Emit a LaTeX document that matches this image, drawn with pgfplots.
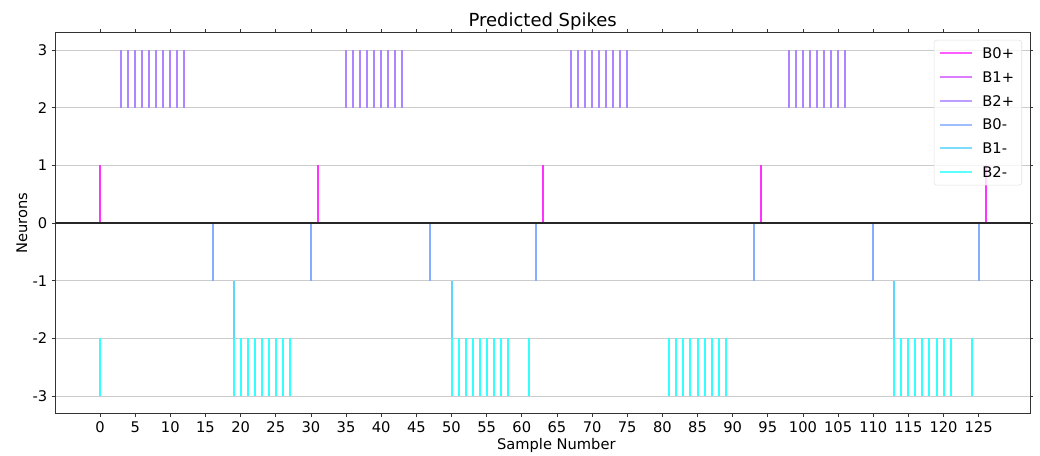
\documentclass[border=0pt]{standalone}
\usepackage{fontspec}
\setmainfont{DejaVu Sans}
\usepackage{pgfplots}
\pgfplotsset{compat=1.18}
\definecolor{B0p}{RGB}{255,51,255}
\definecolor{B1p}{RGB}{214,92,255}
\definecolor{B2p}{RGB}{173,133,255}
\definecolor{B0m}{RGB}{133,173,255}
\definecolor{B1m}{RGB}{92,214,255}
\definecolor{B2m}{RGB}{51,255,255}
\begin{document}
\begin{tikzpicture}
\useasboundingbox (-41.5pt,-32pt) rectangle (738.5pt,310pt);
\begin{axis}[
  scale only axis, width=731pt, height=285.5pt,
  xmin=-6.36, xmax=132.3, ymin=-3.3, ymax=3.3,
  xtick={0,5,...,125}, ytick={-3,-2,-1,0,1,2,3},
  yticklabels={-3,-2,-1,0,1,2,3},
  tick align=outside, major tick length=2.6pt,
  tick style={black!80, line width=0.6pt},
  ymajorgrids, grid style={gray!40, line width=0.6pt},
  axis line style={black!80, line width=0.6pt},
  tick label style={font=\fontsize{11}{13}\selectfont},
  /pgf/number format/assume math mode=true,
  title={Predicted Spikes},
  title style={font=\fontsize{13.5}{16}\selectfont, at={(axis description cs:0.5,1)}, anchor=base, yshift=-1.5pt},
  xlabel={Sample Number},
  xlabel style={font=\fontsize{11}{13}\selectfont, at={(axis description cs:0.514,0)}, anchor=base, yshift=-27.5pt},
  ylabel={Neurons},
  ylabel style={font=\fontsize{11}{13}\selectfont, at={(axis description cs:0,0.5)}, anchor=base, yshift=21.2pt},
  unbounded coords=jump,
  legend style={at={(axis description cs:0.9918,0.981)}, anchor=north east,
    draw=gray!30, rounded corners=2pt, fill=white, fill opacity=0.8, draw opacity=0.8, text opacity=1,
    font=\fontsize{11}{13}\selectfont, inner sep=3.75pt, row sep=5.85pt,
    nodes={inner sep=2pt, text height=8pt, text depth=0pt}},
  legend cell align=left,
  legend image code/.code={\draw[#1] (0pt,0pt) -- (24pt,0pt); \path (29pt,0pt);},
]
% B0+
\addplot[B0p, line width=1.5pt] coordinates {
(0,0)(0,1)(0,nan) (31,0)(31,1)(31,nan) (63,0)(63,1)(63,nan) (94,0)(94,1)(94,nan) (126,0)(126,1)
};
\addlegendentry{B0+}
% B1+ (no spikes)
\addlegendimage{B1p, line width=1.5pt}
\addlegendentry{B1+}
% B2+
\addplot[B2p, line width=1.5pt] coordinates {
(3,2)(3,3)(3,nan) (4,2)(4,3)(4,nan) (5,2)(5,3)(5,nan) (6,2)(6,3)(6,nan) (7,2)(7,3)(7,nan)
(8,2)(8,3)(8,nan) (9,2)(9,3)(9,nan) (10,2)(10,3)(10,nan) (11,2)(11,3)(11,nan) (12,2)(12,3)(12,nan)
(35,2)(35,3)(35,nan) (36,2)(36,3)(36,nan) (37,2)(37,3)(37,nan) (38,2)(38,3)(38,nan) (39,2)(39,3)(39,nan)
(40,2)(40,3)(40,nan) (41,2)(41,3)(41,nan) (42,2)(42,3)(42,nan) (43,2)(43,3)(43,nan)
(67,2)(67,3)(67,nan) (68,2)(68,3)(68,nan) (69,2)(69,3)(69,nan) (70,2)(70,3)(70,nan) (71,2)(71,3)(71,nan)
(72,2)(72,3)(72,nan) (73,2)(73,3)(73,nan) (74,2)(74,3)(74,nan) (75,2)(75,3)(75,nan)
(98,2)(98,3)(98,nan) (99,2)(99,3)(99,nan) (100,2)(100,3)(100,nan) (101,2)(101,3)(101,nan) (102,2)(102,3)(102,nan)
(103,2)(103,3)(103,nan) (104,2)(104,3)(104,nan) (105,2)(105,3)(105,nan) (106,2)(106,3)
};
\addlegendentry{B2+}
% B0-
\addplot[B0m, line width=1.5pt] coordinates {
(16,0)(16,-1)(16,nan) (30,0)(30,-1)(30,nan) (47,0)(47,-1)(47,nan) (62,0)(62,-1)(62,nan)
(93,0)(93,-1)(93,nan) (110,0)(110,-1)(110,nan) (125,0)(125,-1)
};
\addlegendentry{B0-}
% B1-
\addplot[B1m, line width=1.5pt] coordinates {
(19,-1)(19,-2)(19,nan) (50,-1)(50,-2)(50,nan) (113,-1)(113,-2)
};
\addlegendentry{B1-}
% B2-
\addplot[B2m, line width=1.5pt] coordinates {
(0,-2)(0,-3)(0,nan)
(19,-2)(19,-3)(19,nan) (20,-2)(20,-3)(20,nan) (21,-2)(21,-3)(21,nan) (22,-2)(22,-3)(22,nan) (23,-2)(23,-3)(23,nan)
(24,-2)(24,-3)(24,nan) (25,-2)(25,-3)(25,nan) (26,-2)(26,-3)(26,nan) (27,-2)(27,-3)(27,nan)
(50,-2)(50,-3)(50,nan) (51,-2)(51,-3)(51,nan) (52,-2)(52,-3)(52,nan) (53,-2)(53,-3)(53,nan) (54,-2)(54,-3)(54,nan)
(55,-2)(55,-3)(55,nan) (56,-2)(56,-3)(56,nan) (57,-2)(57,-3)(57,nan) (58,-2)(58,-3)(58,nan)
(61,-2)(61,-3)(61,nan)
(81,-2)(81,-3)(81,nan) (82,-2)(82,-3)(82,nan) (83,-2)(83,-3)(83,nan) (84,-2)(84,-3)(84,nan) (85,-2)(85,-3)(85,nan)
(86,-2)(86,-3)(86,nan) (87,-2)(87,-3)(87,nan) (88,-2)(88,-3)(88,nan) (89,-2)(89,-3)(89,nan)
(113,-2)(113,-3)(113,nan) (114,-2)(114,-3)(114,nan) (115,-2)(115,-3)(115,nan) (116,-2)(116,-3)(116,nan) (117,-2)(117,-3)(117,nan)
(118,-2)(118,-3)(118,nan) (119,-2)(119,-3)(119,nan) (120,-2)(120,-3)(120,nan) (121,-2)(121,-3)(121,nan)
(124,-2)(124,-3)
};
\addlegendentry{B2-}
% zero line
\addplot[black!85, line width=1.3pt, forget plot] coordinates {(-6.36,0) (132.3,0)};
\end{axis}
\end{tikzpicture}
\end{document}
